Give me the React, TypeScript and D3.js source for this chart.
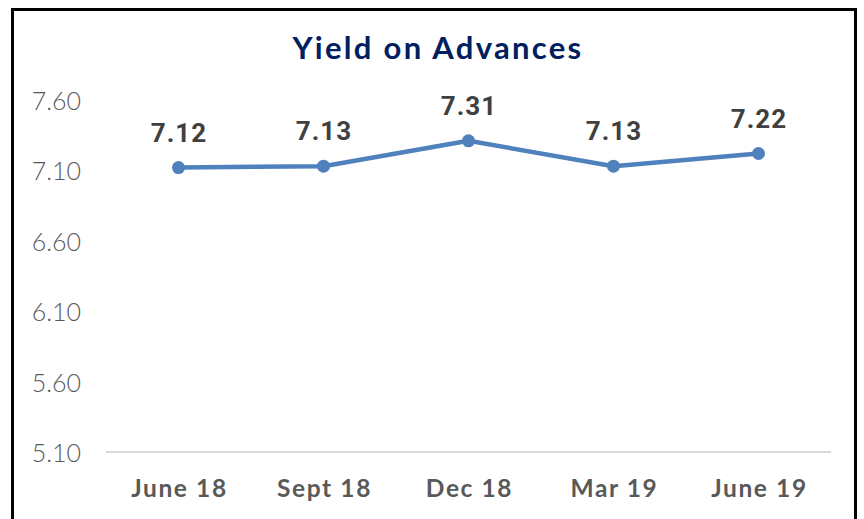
import React from "react";
import * as d3 from "d3";

const categories = ["June 18", "Sept 18", "Dec 18", "Mar 19", "June 19"];
const values = [7.12, 7.13, 7.31, 7.13, 7.22];
const yTicks = [5.1, 5.6, 6.1, 6.6, 7.1, 7.6];
const title = "Yield on Advances";

export default function App() {
  const W = 864, H = 519;
  const left = 106, right = 831, top = 100, bottom = 452;
  const x = d3.scaleBand().domain(categories).range([left, right]);
  const y = d3.scaleLinear().domain([5.1, 7.6]).range([bottom, top]);
  const cx = (c: string) => (x(c) as number) + x.bandwidth() / 2;
  const line = d3.line<number>().x((_, i) => cx(categories[i])).y((v) => y(v));
  const font = "'Century Gothic', 'Lato', 'Open Sans', sans-serif";
  return (
    <svg width={W} height={H} style={{ position: "absolute", left: 0, top: 0, background: "#fff" }}>
      <rect x={12.5} y={9.5} width={843} height={520} fill="#fff" stroke="#000" strokeWidth={3} />
      <text x={438} y={59} textAnchor="middle" fontFamily={font} fontWeight={700} fontSize={31} letterSpacing={2.3} fill="#002060">
        {title}
      </text>
      {yTicks.map((t) => (
        <text key={t} x={81} y={y(t) + 10} textAnchor="end" fontFamily={font} fontWeight={300} fontSize={25} fill="#595959">
          {t.toFixed(2)}
        </text>
      ))}
      <line x1={left} x2={right} y1={bottom} y2={bottom} stroke="#d9d9d9" strokeWidth={2} />
      {categories.map((c) => (
        <text key={c} x={cx(c) + 1} y={497} textAnchor="middle" fontFamily={font} fontWeight={700} fontSize={24.5} letterSpacing={1.6} fill="#595959">
          {c}
        </text>
      ))}
      <path d={line(values) || ""} fill="none" stroke="#4f81bd" strokeWidth={4.5} strokeLinejoin="round" />
      {values.map((v, i) => (
        <g key={i}>
          <circle cx={cx(categories[i])} cy={y(v)} r={6.5} fill="#4f81bd" />
          <text x={cx(categories[i]) + 0.5} y={y(v) - 26} textAnchor="middle" fontFamily="Roboto, sans-serif" fontWeight={700} fontSize={26} letterSpacing={1} fill="#404040">
            {v.toFixed(2)}
          </text>
        </g>
      ))}
    </svg>
  );
}
